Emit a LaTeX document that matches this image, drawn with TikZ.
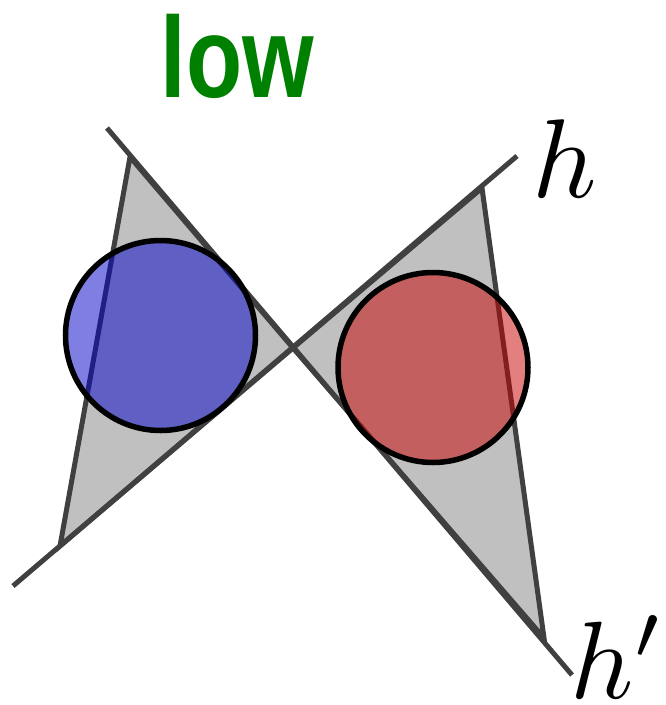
\documentclass[tikz,border=0pt]{standalone}
\usepackage{fontspec}
\newfontfamily\lowfont{Liberation Sans}
\usepackage{graphicx}
\definecolor{linegray}{RGB}{64,64,64}
\definecolor{trigray}{RGB}{192,192,192}
\definecolor{discblue}{RGB}{0,0,200}
\definecolor{discred}{RGB}{200,0,0}
\definecolor{lowgreen}{RGB}{0,128,0}
\begin{document}
\begin{tikzpicture}[x=1pt,y=-1pt,
  hline/.style={draw=linegray,line width=5pt},
  tri/.style={fill=trigray,draw=linegray,line width=5pt,line join=miter},
  disc/.style={circle,draw=black,line width=5.5pt,minimum size=190pt,inner sep=0pt,fill opacity=0.5},
  mlabel/.style={inner sep=0pt,anchor=base}]
\useasboundingbox (0,0) rectangle (665,705);
\coordinate (hA) at (13,586);
\coordinate (hB) at (517,156);
\coordinate (pA) at (107,128);
\coordinate (pB) at (572,675);
\coordinate (X) at (293,348);
\coordinate (L1) at (130,157);
\coordinate (L2) at (60,546);
\coordinate (R1) at (482,188);
\coordinate (R2) at (544,638);
\filldraw[tri] (L1) -- (X) -- (L2) -- cycle;
\filldraw[tri] (R1) -- (X) -- (R2) -- cycle;
\draw[hline] (hA) -- (hB);
\draw[hline] (pA) -- (pB);
\node[disc,fill=discblue] (blue) at (160.5,335.5) {};
\node[disc,fill=discred] (red) at (433,367.5) {};
\node[mlabel] (hlab) at (565,197) {\scalebox{11.2}{$h$}};
\node[mlabel] (hplab) at (618,698) {\scalebox{11}{$h'$}};
\node[inner sep=0pt,anchor=base,text=lowgreen] (low) at (237.5,97)
  {\scalebox{0.8}[1]{\lowfont\bfseries\fontsize{115}{115}\selectfont low}};
\end{tikzpicture}
\end{document}
